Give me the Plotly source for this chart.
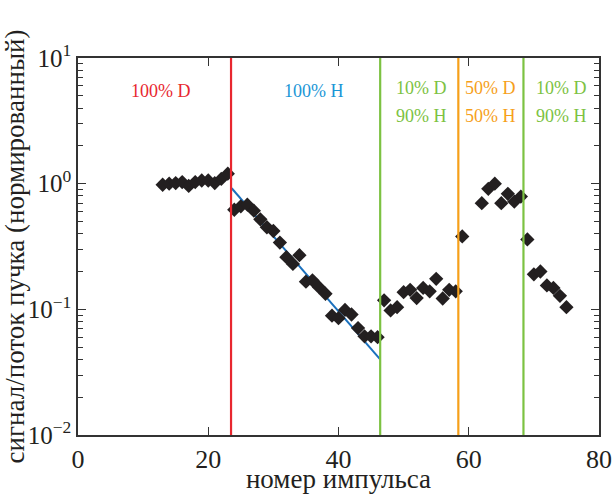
import plotly.graph_objects as go

# pulse number and normalized signal
pulse = [13, 14, 15, 16, 17, 18, 19, 20, 21, 22, 23,
         24, 25, 26, 27, 28, 29, 30, 31, 32, 33, 34, 35, 36, 37, 38, 39, 40, 41, 42, 43, 44, 45, 46,
         47, 48, 49, 50, 51, 52, 53, 54, 55, 56, 57, 58,
         59, 62, 63, 64, 65, 66, 67, 68,
         69, 70, 71, 72, 73, 74, 75]
signal = [0.98, 1.00, 1.01, 1.03, 0.96, 1.03, 1.06, 1.06, 1.01, 1.09, 1.20,
          0.62, 0.66, 0.68, 0.61, 0.52, 0.45, 0.42, 0.34, 0.26, 0.23, 0.27, 0.166, 0.17, 0.15, 0.133,
          0.089, 0.085, 0.099, 0.091, 0.071, 0.061, 0.061, 0.060,
          0.118, 0.098, 0.104, 0.137, 0.143, 0.123, 0.148, 0.139, 0.175, 0.122, 0.143, 0.139,
          0.38, 0.70, 0.91, 1.00, 0.70, 0.83, 0.72, 0.79,
          0.36, 0.19, 0.20, 0.155, 0.148, 0.128, 0.104]

# exponential fit in the 100% H region
fit_x = [23.6, 46.4]
fit_y = [0.92, 0.040]

# gas change boundaries
boundaries = [23.5, 46.4, 58.4, 68.4]
boundary_colors = ["#e8272f", "#7cc242", "#f6a01a", "#7cc242"]

# region labels
label_x = [12.7, 36.3, 52.7, 63.3, 74.3]
label_top = ["100% D", "100% H", "10% D", "50% D", "10% D"]
label_bottom = ["", "", "90% H", "50% H", "90% H"]
label_colors = ["#e8272f", "#1b96d6", "#7cc242", "#f6a01a", "#7cc242"]

SERIF = "Liberation Serif, Tinos, Times New Roman, serif"

fig = go.Figure()
fig.add_trace(go.Scatter(x=fit_x, y=fit_y, mode="lines",
                         line=dict(color="#1a70bd", width=2), showlegend=False))
fig.add_trace(go.Scatter(x=pulse, y=signal, mode="markers",
                         marker=dict(symbol="diamond", size=11, color="#231f20"),
                         showlegend=False))

for bx, bc in zip(boundaries, boundary_colors):
    fig.add_shape(type="line", xref="x", yref="paper", x0=bx, x1=bx, y0=0, y1=1,
                  line=dict(color=bc, width=2.2))

for lx, lt, lb, lc in zip(label_x, label_top, label_bottom, label_colors):
    single = lb == ""
    fig.add_annotation(x=lx, y=0.944 if single else 0.952, xref="x", yref="paper",
                       text=lt, showarrow=False,
                       font=dict(family=SERIF, size=18, color=lc))
    if not single:
        fig.add_annotation(x=lx, y=0.878, xref="x", yref="paper",
                           text=lb, showarrow=False,
                           font=dict(family=SERIF, size=18, color=lc))

minor_vals = [m * 10 ** e for e in (-2, -1, 0) for m in range(2, 10)]

fig.update_layout(
    width=615, height=494,
    margin=dict(l=78, r=16, t=58, b=59),
    paper_bgcolor="white", plot_bgcolor="white",
    font=dict(family=SERIF, size=24, color="#231f20"),
    xaxis=dict(range=[0, 80], tickvals=[0, 20, 40, 60, 80],
               ticks="inside", ticklen=8, tickwidth=1.2, tickcolor="#333",
               showline=True, linecolor="#333", linewidth=1.5, mirror="allticks",
               showgrid=False, zeroline=False, automargin=False,
               tickfont=dict(family=SERIF, size=26),
               title=dict(text="номер импульса", font=dict(family=SERIF, size=27), standoff=7)),
    yaxis=dict(type="log", range=[-2, 1], tickvals=[0.01, 0.1, 1, 10],
               ticktext=["10<sup>−2</sup>", "10<sup>−1</sup>", "10<sup>0</sup>", "10<sup>1</sup>"],
               ticks="inside", ticklen=8, tickwidth=1.2, tickcolor="#333",
               minor=dict(tickvals=minor_vals, ticks="inside", ticklen=5, tickcolor="#333"),
               showline=True, linecolor="#333", linewidth=1.5, mirror="allticks",
               showgrid=False, zeroline=False, automargin=False,
               tickfont=dict(family=SERIF, size=25),
               title=dict(text="сигнал/поток пучка (нормированный)",
                          font=dict(family=SERIF, size=27), standoff=0)),
)

fig.write_html("out.html", config={"displayModeBar": False},
               post_script="document.body.style.margin='0';document.body.style.overflow='hidden';")
